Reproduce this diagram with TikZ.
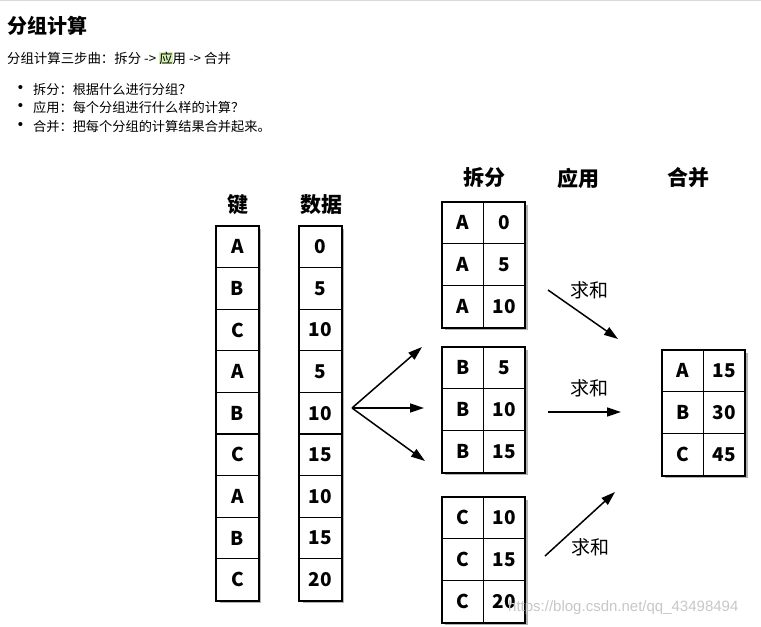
\documentclass[tikz,border=0pt]{standalone}
\usepackage{fontspec}
\setmainfont{Noto Sans CJK SC}
\newfontfamily\urlfont{Liberation Sans}
\usetikzlibrary{positioning, arrows.meta}
\definecolor{hlgreen}{RGB}{214,242,178}
\tikzset{>={Triangle[length=14pt,width=9pt]}}
\tikzset{cell/.style={draw, fill=white, line width=1.1pt, minimum width=41.5pt, minimum height=41.7pt,
    inner sep=0pt, font=\fontsize{19}{19}\selectfont\bfseries}}
\tikzset{frame/.style={line width=1.8pt}}
\tikzset{shade box/.style={fill=black!30}}
\tikzset{head/.style={font=\fontsize{21}{21}\selectfont\bfseries}}
\tikzset{sum label/.style={font=\fontsize{19}{19}\selectfont}}
\tikzset{body/.style={anchor=west, inner sep=0pt, font=\fontsize{13.2}{13.2}\selectfont}}
\tikzset{bullet/.style={inner sep=0pt, font=\urlfont\fontsize{15}{15}\selectfont}}
\tikzset{flow/.style={->, line width=1.5pt}}

\begin{document}
\begin{tikzpicture}[x=1pt, y=-1pt]
  \useasboundingbox (0,0) rectangle (761,627);
  \draw[black!15, line width=1pt] (0,0.5) -- (761,0.5);

  % text above the picture
  \node[body, font=\fontsize{20}{20}\selectfont\bfseries] (title) at (7,26) {分组计算};
  \node[body, font=\fontsize{13.4}{13.4}\selectfont] (steps) at (7,58)
    {分组计算三步曲：拆分 -> {\setlength\fboxsep{0pt}\colorbox{hlgreen}{应}}用 -> 合并};
  \node[bullet] (dot1) at (20.5,89) {•};
  \node[bullet] (dot2) at (20.5,107) {•};
  \node[bullet] (dot3) at (20.5,126) {•};
  \node[body] (item1) at (33,89) {拆分：根据什么进行分组？};
  \node[body] (item2) at (33,107) {应用：每个分组进行什么样的计算？};
  \node[body] (item3) at (33,126) {合并：把每个分组的计算结果合并起来。};

  % column heads
  \node[head] (hkey) at (237.5,205) {键};
  \node[head] (hdata) at (321,205) {数据};
  \node[head] (hsplit) at (484,178) {拆分};
  \node[head] (happly) at (578,178) {应用};
  \node[head] (hmerge) at (688,178) {合并};

  % key and data columns
  \fill[shade box] (219.5,229) rectangle (261,602.5);
  \fill[shade box] (302.5,229) rectangle (344,602.5);
  \foreach \k/\v [count=\i] in {A/0,B/5,C/10,A/5,B/10,C/15,A/10,B/15,C/20} {
    \node[cell] (key\i) at (237.5,{226+41.6*(\i-0.5)}) {\k};
    \node[cell] (data\i) at (320.5,{226+41.6*(\i-0.5)}) {\v};
  }
  \draw[frame] (key1.north west) rectangle (key9.south east);
  \draw[frame] (data1.north west) rectangle (data9.south east);

  % split groups
  \foreach \g/\top/\vals in {A/202/{0,5,10}, B/347/{5,10,15}, C/497/{10,15,20}} {
    \fill[shade box] (444.5,{\top+3}) rectangle (528,{\top+128});
    \foreach \v [count=\j] in \vals {
      \node[cell] (sk\g\j) at (462.75,{\top+41.7*(\j-0.5)}) {\g};
      \node[cell] (sv\g\j) at (504.25,{\top+41.7*(\j-0.5)}) {\v};
    }
    \draw[frame] (sk\g1.north west) rectangle (sv\g3.south east);
  }

  % merged result
  \fill[shade box] (664.5,353) rectangle (748,478);
  \foreach \k/\v [count=\j] in {A/15,B/30,C/45} {
    \node[cell] (rk\j) at (682.75,{350+41.7*(\j-0.5)}) {\k};
    \node[cell] (rv\j) at (724.25,{350+41.7*(\j-0.5)}) {\v};
  }
  \draw[frame] (rk1.north west) rectangle (rv3.south east);

  % splitting arrows
  \coordinate (fork) at (352,408);
  \coordinate (toA) at (422,347);
  \coordinate (toB) at (424,408);
  \coordinate (toC) at (425,461);
  \draw[flow] (fork) -- (toA);
  \draw[flow] (fork) -- (toB);
  \draw[flow] (fork) -- (toC);

  % apply arrows
  \coordinate (sumA1) at (548,290);
  \coordinate (sumA2) at (618,339);
  \coordinate (sumB1) at (548,412);
  \coordinate (sumB2) at (621,412);
  \coordinate (sumC1) at (545,556);
  \coordinate (sumC2) at (615,492);
  \draw[flow] (sumA1) -- (sumA2);
  \draw[flow] (sumB1) -- (sumB2);
  \draw[flow] (sumC1) -- (sumC2);
  \node[sum label] (sumA) at (589,290) {求和};
  \node[sum label] (sumB) at (589,388) {求和};
  \node[sum label] (sumC) at (590,547) {求和};

  \node[anchor=west, inner sep=0pt, text=black!22, font=\urlfont\fontsize{15}{15}\selectfont]
    (mark) at (508,608) {https://blog.csdn.net/qq\_43498494};
\end{tikzpicture}
\end{document}
